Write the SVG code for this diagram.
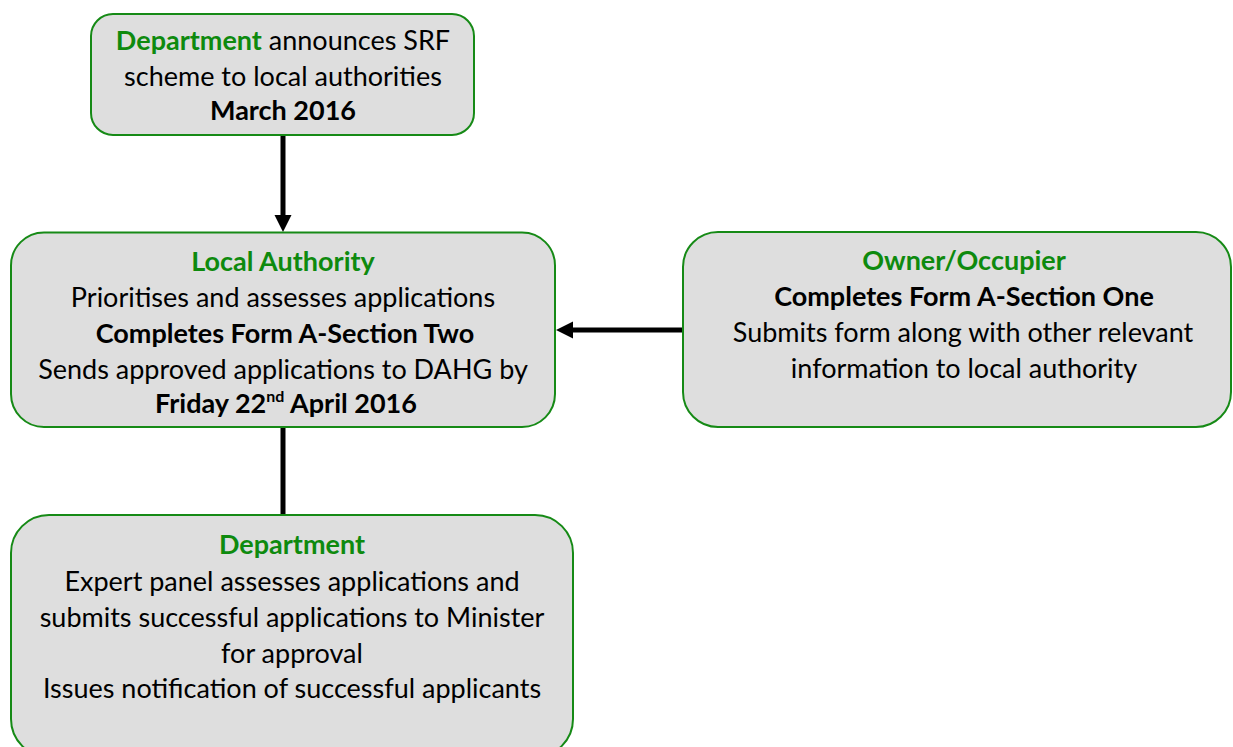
<svg xmlns="http://www.w3.org/2000/svg" width="1233" height="747" viewBox="0 0 1233 747">
<style>
.box{fill:#dedede;stroke:#168a16;stroke-width:2}
.t{font-family:Lato,"Liberation Sans",sans-serif;font-size:27px;fill:#000;text-anchor:middle}
.b{font-weight:bold}
.g{fill:#0e8a0e;font-weight:bold}
.c{stroke:#000;stroke-width:5;fill:none}
</style>
<defs>
<marker id="ah" markerUnits="userSpaceOnUse" markerWidth="18" markerHeight="18" refX="0" refY="8.5" orient="auto">
<path d="M0,0 L17,8.5 L0,17 z" fill="#000"/>
</marker>
</defs>
<rect width="1233" height="747" fill="#fff"/>
<g id="connectors">
<path class="c" d="M283,136 L283,215" marker-end="url(#ah)"/>
<path class="c" d="M683,330 L573,330" marker-end="url(#ah)"/>
<path class="c" d="M283,427 L283,515"/>
</g>
<g id="node-announce">
<rect class="box" x="91" y="14" width="383" height="121" rx="22"/>
<text class="t" x="283" y="50"><tspan class="g">Department</tspan> announces SRF</text>
<text class="t" x="283" y="86">scheme to local authorities</text>
<text class="t b" x="283" y="120">March 2016</text>
</g>
<g id="node-local-authority">
<rect class="box" x="11" y="232.5" width="544" height="194.5" rx="33"/>
<text class="t g" x="283" y="271">Local Authority</text>
<text class="t" x="283" y="307">Prioritises and assesses applications</text>
<text class="t b" x="285" y="343">Completes Form A-Section Two</text>
<text class="t" x="283" y="379">Sends approved applications to DAHG by</text>
<text class="t b" x="286" y="413">Friday 22<tspan font-size="16" dy="-11">nd</tspan><tspan dy="11"> April 2016</tspan></text>
</g>
<g id="node-owner">
<rect class="box" x="683" y="232" width="548" height="195" rx="35"/>
<text class="t g" x="964" y="270">Owner/Occupier</text>
<text class="t b" x="964" y="306">Completes Form A-Section One</text>
<text class="t" x="963" y="342">Submits form along with other relevant</text>
<text class="t" x="964" y="378">information to local authority</text>
</g>
<g id="node-department">
<rect class="box" x="11" y="515" width="562" height="242" rx="38"/>
<text class="t g" x="292" y="554">Department</text>
<text class="t" x="292" y="591">Expert panel assesses applications and</text>
<text class="t" x="292" y="627">submits successful applications to Minister</text>
<text class="t" x="292" y="663">for approval</text>
<text class="t" x="292" y="698">Issues notification of successful applicants</text>
</g>
</svg>
